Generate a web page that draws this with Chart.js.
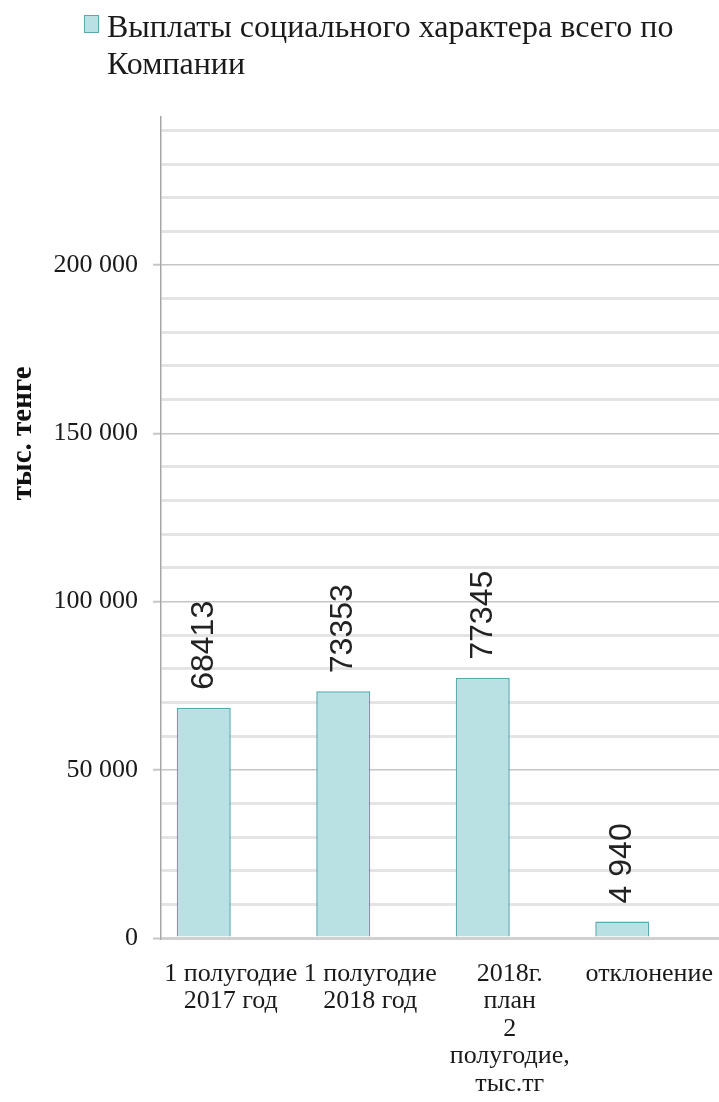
<!DOCTYPE html>
<html lang="ru">
<head>
<meta charset="utf-8">
<title>Выплаты социального характера</title>
<script src="https://cdn.jsdelivr.net/npm/chart.js@4.4.1/dist/chart.umd.min.js"></script>
<style>
    html, body { margin: 0; padding: 0; background: #fff; }
    #wrap { position: relative; width: 719px; height: 1102px; }
    #legend {
        position: absolute; left: 84px; top: 8px;
        display: flex; align-items: flex-start;
        font-family: "Liberation Serif", "Times New Roman", serif;
        font-size: 32px; line-height: 37px; color: #1a1a1a;
    }
    #legend .box {
        width: 13px; height: 16px; margin-top: 7px; margin-right: 8px;
        background: #b9e0e3; border: 1px solid #5aa8b0;
    }
    #legend .txt { width: 600px; }
</style>
</head>
<body>
<div id="wrap">
    <canvas id="chart"></canvas>
    <div id="legend"><div class="box"></div><div class="txt" id="legendText"></div></div>
</div>
<script>
// données
const categories = [
    ["1 полугодие", "2017 год"],
    ["1 полугодие", "2018 год"],
    ["2018г.", "план", "2", "полугодие,", "тыс.тг"],
    ["отклонение"]
];
const seriesName = "Выплаты социального характера всего по Компании";
const values = [68413, 73353, 77345, 4940];
const valueLabels = ["68413", "73353", "77345", "4 940"];
const emptySeries = [null, null, null, null]; // 2e série vide (place réservée à droite des barres)
const yTitle = "тыс. тенге";
const yMin = 0, yMax = 244000, yStep = 10000, yLabelStep = 50000, yLastTick = 240000;

document.getElementById("legendText").textContent = seriesName;

function formatThousands(v) {
    return String(v).replace(/\B(?=(\d{3})+(?!\d))/g, " ");
}

// graduations tous les 10 000 (étiquette tous les 50 000)
const yTicks = [];
for (let v = yMin; v <= yLastTick; v += yStep) yTicks.push(v);

// étiquettes verticales au-dessus des barres
const barLabels = {
    id: "barLabels",
    afterDatasetsDraw(chart) {
        const ctx = chart.ctx;
        const meta = chart.getDatasetMeta(0);
        ctx.save();
        ctx.font = '32px "Liberation Sans", Arial, sans-serif';
        ctx.fillStyle = "#222";
        ctx.textAlign = "left";
        ctx.textBaseline = "middle";
        meta.data.forEach((bar, i) => {
            ctx.save();
            ctx.translate(bar.x, bar.y - 18);
            ctx.rotate(-Math.PI / 2);
            ctx.fillText(valueLabels[i], 0, 0);
            ctx.restore();
        });
        ctx.restore();
    }
};

// titre de l'axe Y
const axisTitle = {
    id: "axisTitle",
    afterDraw(chart) {
        const ctx = chart.ctx;
        ctx.save();
        ctx.font = 'bold 29px "Liberation Serif", "Times New Roman", serif';
        ctx.fillStyle = "#111";
        ctx.textAlign = "center";
        ctx.textBaseline = "middle";
        ctx.translate(24, chart.scales.y.getPixelForValue(150000));
        ctx.rotate(-Math.PI / 2);
        ctx.fillText(yTitle, 0, 0);
        ctx.restore();
    }
};

const isMajor = v => v % yLabelStep === 0;

const ctx = document.getElementById("chart").getContext("2d");
new Chart(ctx, {
    type: "bar",
    data: {
        labels: categories,
        datasets: [{
            label: seriesName,
            data: values,
            backgroundColor: "#b9e0e3",
            borderColor: "#5aa8b0",
            borderWidth: 1.5,
            borderSkipped: "bottom"
        }, {
            label: "",
            data: emptySeries,
            backgroundColor: "rgba(0,0,0,0)",
            borderWidth: 0
        }]
    },
    options: {
        responsive: true,
        maintainAspectRatio: false,
        animation: false,
        categoryPercentage: 0.774,
        barPercentage: 1.0,
        layout: { padding: { top: 117, left: 0, right: 0, bottom: 0 } },
        plugins: {
            legend: { display: false },
            tooltip: { enabled: false }
        },
        scales: {
            x: {
                grid: { display: false },
                border: { display: false },
                ticks: {
                    autoSkip: false,
                    maxRotation: 0,
                    minRotation: 0,
                    padding: 14,
                    color: "#1a1a1a",
                    font: { family: '"Liberation Serif", "Times New Roman", serif', size: 26, lineHeight: 1.06 }
                },
                afterFit(scale) {
                    scale.height = 164;
                    scale.paddingLeft = 0;
                    scale.paddingRight = 0;
                }
            },
            y: {
                min: yMin,
                max: yMax,
                afterBuildTicks(scale) {
                    scale.ticks = yTicks.map(v => ({ value: v }));
                },
                ticks: {
                    autoSkip: false,
                    padding: 15,
                    color: "#1a1a1a",
                    font: { family: '"Liberation Serif", "Times New Roman", serif', size: 26 },
                    callback: v => (isMajor(v) ? formatThousands(v) : "")
                },
                grid: {
                    drawTicks: true,
                    tickLength: 8,
                    color: c => (c.tick && c.tick.value === 0 ? "#d0d0d0" : (c.tick && isMajor(c.tick.value) ? "#c6c6c6" : "#e4e4e4")),
                    lineWidth: c => (c.tick && isMajor(c.tick.value) && c.tick.value !== 0 ? 1.5 : 3),
                    tickColor: c => (c.tick && isMajor(c.tick.value) ? "#c6c6c6" : "rgba(0,0,0,0)"),
                    tickWidth: 2
                },
                border: { display: true, color: "#a6a6a6", width: 1.5 },
                afterFit(scale) {
                    scale.width = 161;
                    scale.paddingTop = 0;
                    scale.paddingBottom = 0;
                }
            }
        }
    },
    plugins: [barLabels, axisTitle]
});
</script>
</body>
</html>
